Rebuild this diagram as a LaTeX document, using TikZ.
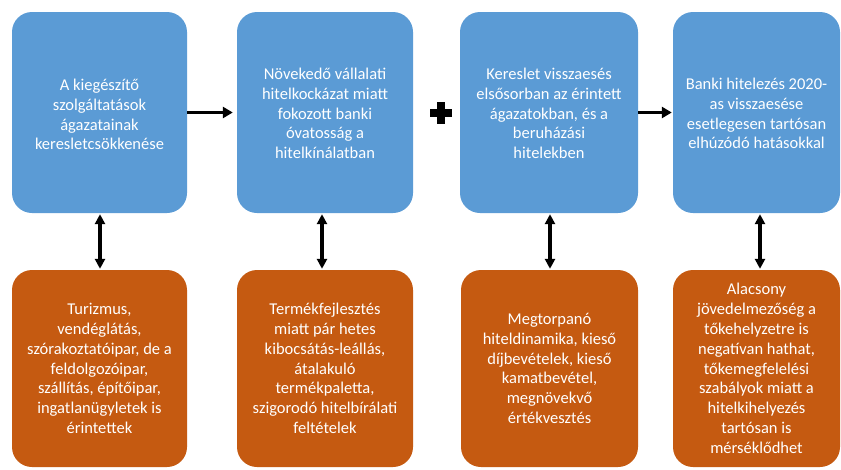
\documentclass[tikz,border=0pt]{standalone}
\usepackage{fontspec}
\setmainfont{Carlito}
\usetikzlibrary{arrows.meta}
\definecolor{boxblue}{HTML}{5B9BD5}
\definecolor{boxorange}{HTML}{C55A11}
\tikzset{
  txt/.style={text=white, align=center, font=\fontsize{16.5}{19.8}\selectfont, inner sep=0pt},
  bluebox/.style={fill=boxblue, rounded corners=20pt, draw=none, minimum height=201pt},
  orangebox/.style={fill=boxorange, rounded corners=20pt, draw=none, minimum height=197pt},
  harrow/.style={line width=3.2pt, -{Triangle[length=10pt,width=11pt]}},
  varrow/.style={line width=3.2pt, {Triangle[length=10pt,width=10pt]}-{Triangle[length=10pt,width=10pt]}, shorten >=1pt, shorten <=1pt}
}
\begin{document}
\begin{tikzpicture}[x=1pt,y=-1pt]
\useasboundingbox (0,0) rectangle (841,469);
% blue row
\node[bluebox, minimum width=175pt] (b1) at (99.5,112.5) {};
\node[bluebox, minimum width=176pt] (b2) at (325,112.5) {};
\node[bluebox, minimum width=178pt] (b3) at (549,112.5) {};
\node[bluebox, minimum width=167pt] (b4) at (756.5,112.5) {};
\node[txt] (t1) at ([yshift=-2pt]b1.center) {A kiegészítő\\szolgáltatások\\ágazatainak\\keresletcsökkenése};
\node[txt] (t2) at ([yshift=-1pt]b2.center) {Növekedő vállalati\\hitelkockázat miatt\\fokozott banki\\óvatosság a\\hitelkínálatban};
\node[txt] (t3) at ([yshift=-1pt]b3.center) {Kereslet visszaesés\\elsősorban az érintett\\ágazatokban, és a\\beruházási\\hitelekben};
\node[txt] (t4) at ([yshift=-1pt]b4.center) {Banki hitelezés 2020-\\as visszaesése\\esetlegesen tartósan\\elhúzódó hatásokkal};
% orange row
\node[orangebox, minimum width=175pt] (o1) at (99.5,368.5) {};
\node[orangebox, minimum width=176pt] (o2) at (325,368.5) {};
\node[orangebox, minimum width=177pt] (o3) at (549.5,368.5) {};
\node[orangebox, minimum width=167pt] (o4) at (756.5,368.5) {};
\node[txt] (u1) at (o1) {Turizmus,\\vendéglátás,\\szórakoztatóipar, de a\\feldolgozóipar,\\szállítás, építőipar,\\ingatlanügyletek is\\érintettek};
\node[txt] (u2) at (o2) {Termékfejlesztés\\miatt pár hetes\\kibocsátás-leállás,\\átalakuló\\termékpaletta,\\szigorodó hitelbírálati\\feltételek};
\node[txt] (u3) at (o3) {Megtorpanó\\hiteldinamika, kieső\\díjbevételek, kieső\\kamatbevétel,\\megnövekvő\\értékvesztés};
\node[txt] (u4) at (o4) {Alacsony\\jövedelmezőség a\\tőkehelyzetre is\\negatívan hathat,\\tőkemegfelelési\\szabályok miatt a\\hitelkihelyezés\\tartósan is\\mérséklődhet};
% horizontal arrows
\draw[harrow] (b1.east) -- ([xshift=-4pt]b2.west);
\draw[harrow] (b3.east) -- ([xshift=-1pt]b4.west);
% plus sign
\node[fill=black, minimum width=22pt, minimum height=8pt, inner sep=0pt] (plush) at (441,113) {};
\node[fill=black, minimum width=8pt, minimum height=22pt, inner sep=0pt] (plusv) at (plush) {};
% vertical double arrows
\draw[varrow] ([xshift=0.5pt]b1.south) -- ([xshift=0.5pt]o1.north);
\draw[varrow] ([xshift=-3pt]b2.south) -- ([xshift=-3pt]o2.north);
\draw[varrow] ([xshift=1pt]b3.south) -- ([xshift=0.5pt]o3.north);
\draw[varrow] ([xshift=3.5pt]b4.south) -- ([xshift=3.5pt]o4.north);
\end{tikzpicture}
\end{document}
